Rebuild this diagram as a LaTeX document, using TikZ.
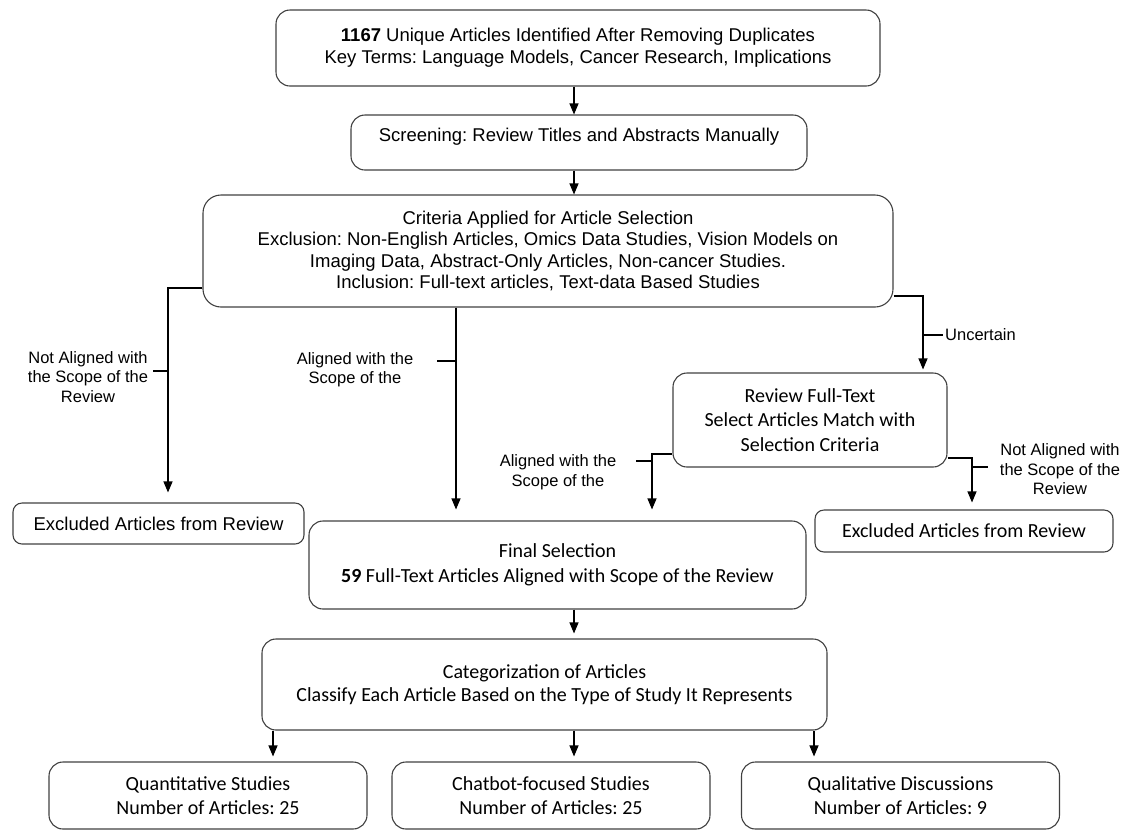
\documentclass[tikz,border=0pt]{standalone}
\usepackage{fontspec}
\setmainfont{Liberation Sans}
\newfontfamily\carlito{Carlito}
\usetikzlibrary{arrows.meta}
\frenchspacing

\begin{document}
\begin{tikzpicture}[x=1pt, y=-1pt, >={Triangle[length=11pt,width=9pt]},
  box/.style={draw=black!75, line width=1.1pt, rounded corners=14pt, align=center, inner sep=0pt, font=\fontsize{18.5}{22}\selectfont},
  cbox/.style={box, font=\carlito\fontsize{20}{24.5}\selectfont},
  lbl/.style={align=center, inner sep=1pt, font=\fontsize{16.5}{19.5}\selectfont},
  link/.style={line width=1.1pt}]
\useasboundingbox (0,0) rectangle (1126,831);
\node[box, minimum width=604pt, minimum height=76pt] (top) at (578,48) {\textbf{1167} Unique Articles Identified After Removing Duplicates\\Key Terms: Language Models, Cancer Research, Implications};
\node[box, minimum width=456pt, minimum height=55pt, text depth=16pt] (screen) at (579,142.5) {Screening: Review Titles and Abstracts Manually};
\node[box, rounded corners=18pt, minimum width=690pt, minimum height=112pt, font=\fontsize{18.5}{21.5}\selectfont] (crit) at (548,251) {Criteria Applied for Article Selection\\Exclusion: Non-English Articles, Omics Data Studies, Vision Models on\\Imaging Data, Abstract-Only Articles, Non-cancer Studies.\\Inclusion: Full-text articles, Text-data Based Studies};
\node[box, rounded corners=9pt, minimum width=291pt, minimum height=41pt] (exL) at (158.5,523.5) {Excluded Articles from Review};
\node[cbox, minimum width=274pt, minimum height=94pt] (review) at (810,420) {Review Full-Text\\Select Articles Match with\\Selection Criteria};
\node[cbox, rounded corners=9pt, minimum width=298pt, minimum height=42pt] (exR) at (964,531) {Excluded Articles from Review};
\node[cbox, minimum width=497pt, minimum height=88pt] (final) at (557.5,565) {Final Selection\\\textbf{59} Full-Text Articles Aligned with Scope of the Review};
\node[cbox, minimum width=565pt, minimum height=91pt, font=\carlito\fontsize{20}{23}\selectfont] (cat) at (544.5,684.5) {Categorization of Articles\\Classify Each Article Based on the Type of Study It Represents};
\node[cbox, minimum width=318pt, minimum height=67pt] (quant) at (208,795.5) {Quantitative Studies\\Number of Articles: 25};
\node[cbox, minimum width=318pt, minimum height=67pt] (chat) at (551,795.5) {Chatbot-focused Studies\\Number of Articles: 25};
\node[cbox, minimum width=318pt, minimum height=67pt] (qual) at (900.5,795.5) {Qualitative Discussions\\Number of Articles: 9};
% branch points
\coordinate (c1) at (574,0);
\coordinate (k1) at (273,0);
\coordinate (k3) at (814,0);
\coordinate (jL) at (168,288);
\coordinate (tL) at (168,371);
\coordinate (jM) at (456,361);
\coordinate (jU) at (923,296);
\coordinate (tU) at (923,335);
\coordinate (jA) at (652,454);
\coordinate (tA) at (652,461);
\coordinate (jN) at (972,458);
\coordinate (tN) at (972,467);
\draw[link,->] (top.south -| c1) -- (screen.north -| c1);
\draw[link,->] (screen.south -| c1) -- (crit.north -| c1);
\draw[link,->,shorten >=10pt] (crit.west |- jL) -- (jL) -- (jL |- exL.north);
\draw[link] (tL) -- +(-15,0);
\node[lbl] (nL) at (88,377) {Not Aligned with\\the Scope of the\\Review};
\draw[link,->,shorten >=11pt] (crit.south -| jM) -- (final.north -| jM);
\draw[link] (jM) -- +(-19,0);
\node[lbl] (aM) at (355,369.5) {Aligned with the\\Scope of the};
\draw[link,->,shorten >=3pt] (crit.east |- jU) -- (jU) -- (jU |- review.north);
\draw[link] (tU) -- +(20,0);
\node[lbl, anchor=west] (unc) at (944,335) {Uncertain};
\draw[link,->,shorten >=11pt] (review.west |- jA) -- (jA) -- (jA |- final.north);
\draw[link] (tA) -- +(-16,0);
\node[lbl] (aR) at (558,472) {Aligned with the\\Scope of the};
\draw[link,->,shorten >=7pt] (review.east |- jN) -- (jN) -- (jN |- exR.north);
\draw[link] (tN) -- +(16,0);
\node[lbl] (nR) at (1060,469.5) {Not Aligned with\\the Scope of the\\Review};
\draw[link,->,shorten >=5pt] (final.south -| c1) -- (cat.north -| c1);
\foreach \k/\b in {k1/quant, c1/chat, k3/qual}
  \draw[link,->,shorten >=5pt] (cat.south -| \k) -- (\b.north -| \k);
\end{tikzpicture}
\end{document}
